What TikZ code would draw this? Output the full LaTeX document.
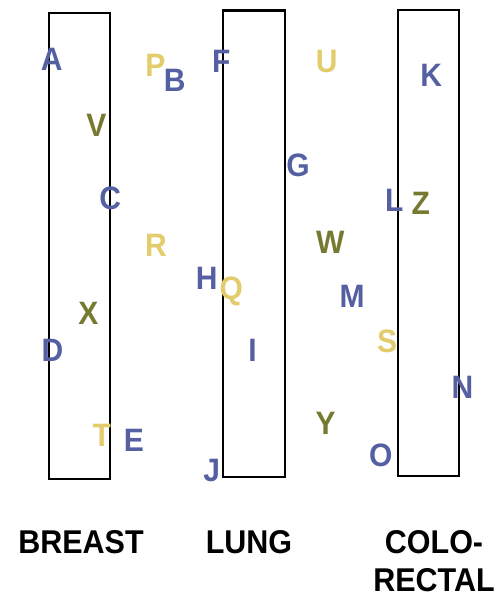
\documentclass[tikz,border=0pt]{standalone}
\usepackage{graphicx}
\usepackage{fontspec}
\setmainfont{Liberation Sans}
\definecolor{cblue}{HTML}{5560A2}
\definecolor{cyel}{HTML}{E2CC6C}
\definecolor{colive}{HTML}{767A30}
\newcommand{\vstretch}[1]{\scalebox{1}[1.08]{#1}}
\begin{document}
\begin{tikzpicture}[x=1pt,y=-1pt,
  organ/.style={draw=black,line width=2.2pt},
  lt/.style={inner sep=0pt,font=\fontsize{30}{36}\selectfont\bfseries,text height=23.2pt,text depth=0pt},
  bl/.style={lt,text=cblue},
  yl/.style={lt,text=cyel},
  ol/.style={lt,text=colive},
  caption/.style={inner sep=0pt,font=\fontsize{30.5}{38.3}\selectfont\bfseries,align=center}]
\useasboundingbox (0,0) rectangle (500,599);
% columns
\draw[organ] (49,12.7) rectangle (110,479);
\draw[organ] (223,10.5) rectangle (284.7,476.7);
\draw[organ] (398.3,10.3) rectangle (459.3,476);
% letters
\node[bl] (A) at (51.7,58.8) {\vstretch{A}};
\node[yl] (P) at (155.5,64.7) {\vstretch{P}};
\node[bl] (B) at (174.7,80) {\vstretch{B}};
\node[bl] (F) at (221.3,61) {\vstretch{F}};
\node[ol] (V) at (96.3,124.7) {\vstretch{V}};
\node[bl] (C) at (110.3,198.3) {\vstretch{C}};
\node[yl] (R) at (156,245.3) {\vstretch{R}};
\node[bl] (H) at (206.7,277.7) {\vstretch{H}};
\node[yl] (Q) at (231.3,288) {\vstretch{Q}};
\node[yl] (U) at (326.7,61) {\vstretch{U}};
\node[bl] (K) at (431.2,74.7) {\vstretch{K}};
\node[bl] (G) at (298,165) {\vstretch{G}};
\node[bl] (L) at (394.3,199.5) {\vstretch{L}};
\node[ol] (Z) at (420.8,202.7) {\vstretch{Z}};
\node[ol] (W) at (330.3,242.3) {\vstretch{W}};
\node[bl] (M) at (352,296) {\vstretch{M}};
\node[ol] (X) at (88.3,313) {\vstretch{X}};
\node[bl] (D) at (52.5,349.5) {\vstretch{D}};
\node[bl] (I) at (252.5,349.5) {\vstretch{I}};
\node[yl] (S) at (387.2,341.3) {\vstretch{S}};
\node[bl] (N) at (462.5,387.2) {\vstretch{N}};
\node[ol] (Y) at (325.7,423.3) {\vstretch{Y}};
\node[yl] (T) at (101.8,434.7) {\vstretch{T}};
\node[bl] (E) at (133.8,440) {\vstretch{E}};
\node[bl] (O) at (380.7,454.8) {\vstretch{O}};
\node[bl] (J) at (211.7,469.5) {\vstretch{J}};
% captions
\node[caption,text height=23.6pt,text depth=0pt] (breast) at (81,542) {\vstretch{BREAST}};
\node[caption,text height=23.6pt,text depth=0pt] (lung) at (249,542) {\vstretch{LUNG}};
\node[caption,anchor=north] (colorectal) at (434,529.8) {\vstretch{COLO-}\\\vstretch{RECTAL}};
\end{tikzpicture}
\end{document}
